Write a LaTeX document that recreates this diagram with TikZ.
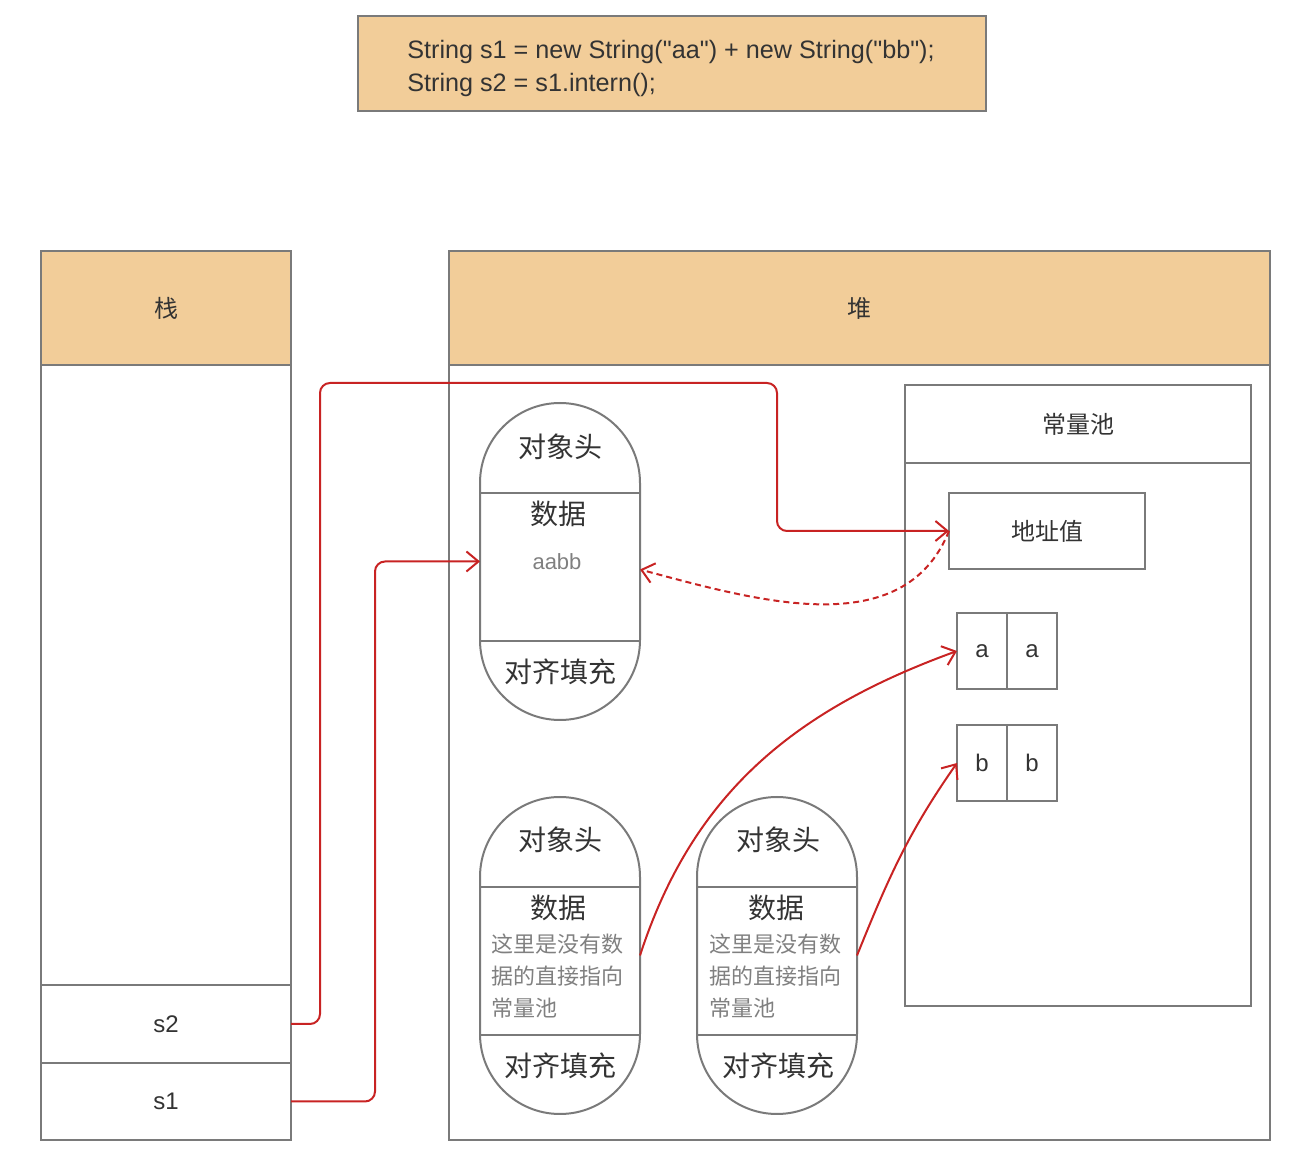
\documentclass[tikz,border=0pt]{standalone}
\usepackage{fontspec}
\setmainfont{Noto Sans CJK SC}
\newfontfamily\latinfont[Ligatures=TeXOff]{Liberation Sans}
\usetikzlibrary{arrows.meta}
\definecolor{headfill}{RGB}{242,205,153}
\definecolor{linegray}{RGB}{122,122,122}
\definecolor{refred}{RGB}{200,35,35}
\definecolor{txtdark}{RGB}{51,51,51}
\definecolor{txtgray}{RGB}{128,128,128}
\tikzset{
  box/.style={draw=linegray, line width=1pt, inner sep=0pt, outer sep=0pt, anchor=north west, text=txtdark, font=\fontsize{12}{14}\selectfont},
  head/.style={box, fill=headfill},
  obj/.style={draw=linegray, line width=1pt, rounded corners=40pt, minimum width=80pt, minimum height=158.5pt, inner sep=0pt, outer sep=0pt, anchor=north west},
  lbl/.style={text=txtdark, font=\fontsize{14}{16}\selectfont, inner sep=1pt},
  note/.style={text=txtgray, font=\fontsize{11}{16}\selectfont, inner sep=0pt, align=left},
  ref/.style={draw=refred, line width=1pt, -{Straight Barb[length=6pt,width=10pt]}},
}
\begin{document}
\begin{tikzpicture}[x=0.5pt,y=-0.5pt]
        \useasboundingbox (0,0) rectangle (1298,1170);
        % code
        \node[draw=linegray, line width=1pt, fill=headfill, minimum width=314pt, minimum height=47.5pt, anchor=north west] (code) at (357,15) {};
        \node[text=txtdark, align=left, font=\latinfont\fontsize{12.6}{16.5}\selectfont, inner sep=0pt] (codetext) at (671,68) {String s1 = new String("aa") + new String("bb");\\String s2 = s1.intern();};
        % stack
        \node[head, minimum width=125pt, minimum height=57pt] (stackhead) at (41,251) {栈};
        \node[box, minimum width=125pt, minimum height=310pt] (stackbody) at (41,365) {};
        \node[box, minimum width=125pt, minimum height=39pt, font=\latinfont\fontsize{12}{14}\selectfont] (s2) at (41,985) {s2};
        \node[box, minimum width=125pt, minimum height=38.5pt, font=\latinfont\fontsize{12}{14}\selectfont] (s1) at (41,1063) {s1};
        % heap
        \node[head, minimum width=410.5pt, minimum height=57pt] (heaphead) at (449,251) {堆};
        \node[box, minimum width=410.5pt, minimum height=387.5pt] (heapbody) at (449,365) {};
        % constant pool
        \node[box, minimum width=173pt, minimum height=39pt] (poolhead) at (905,385) {常量池};
        \node[box, minimum width=173pt, minimum height=271.5pt] (poolbody) at (905,463) {};
        \node[box, minimum width=98pt, minimum height=38pt] (addr) at (949,493) {地址值};
        \foreach \n/\x/\y/\c in {a1/957/613/a, a2/1007/613/a, b1/957/725/b, b2/1007/725/b}
          \node[box, minimum width=25pt, minimum height=38pt, font=\latinfont\fontsize{12}{14}\selectfont] (\n) at (\x,\y) {\c};
        % objects
        \node[obj] (obj1) at (480,403) {};
        \node[obj] (obj2) at (480,797) {};
        \node[obj] (obj3) at (697,797) {};
        \foreach \o in {obj1,obj2,obj3}{
          \draw[draw=linegray, line width=1pt] ([yshift=-45pt]\o.north west) -- ([yshift=-45pt]\o.north east);
          \draw[draw=linegray, line width=1pt] ([yshift=39.5pt]\o.south west) -- ([yshift=39.5pt]\o.south east);
        }
        \node[lbl] (h1) at (560,447) {对象头};
        \node[lbl] (d1) at (558,514) {数据};
        \node[note, font=\latinfont\fontsize{11}{16}\selectfont] (v1) at (557,562) {aabb};
        \node[lbl] (p1) at (560,672) {对齐填充};
        \node[lbl] (h2) at (560,840) {对象头};
        \node[lbl] (d2) at (558,908) {数据};
        \node[note, anchor=west] (v2) at (491,976) {这里是没有数\\据的直接指向\\常量池};
        \node[lbl] (p2) at (560,1066) {对齐填充};
        \node[lbl] (h3) at (778,840) {对象头};
        \node[lbl] (d3) at (776,908) {数据};
        \node[note, anchor=west] (v3) at (709,976) {这里是没有数\\据的直接指向\\常量池};
        \node[lbl] (p3) at (778,1066) {对齐填充};
        % references
        \coordinate (up2)  at (320,383);
        \coordinate (over2) at (777,383);
        \coordinate (up1)  at (375,561.5);
        \draw[ref, rounded corners=5pt] (s2.east) -| (up2) -- (over2) |- (addr.west);
        \draw[ref, rounded corners=5pt] (s1.east) -| (up1) -- (obj1.west);
        \draw[ref, dash pattern=on 3pt off 2pt] (addr.west) to[out=-112,in=-15] ([yshift=-4pt]obj1.east);
        \draw[ref] (obj2.east) to[out=72,in=200] (a1.west);
        \draw[ref] (obj3.east) to[out=68,in=235] (b1.west);
    \end{tikzpicture}
\end{document}
